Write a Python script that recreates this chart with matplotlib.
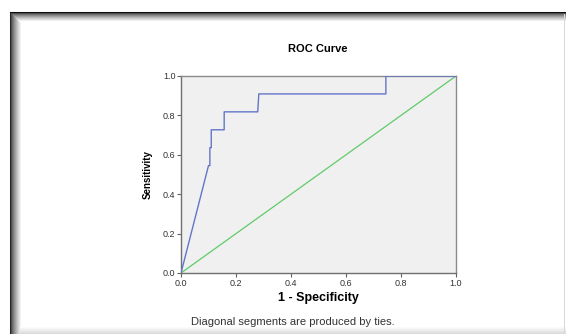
import matplotlib

matplotlib.use("Agg")
import matplotlib.pyplot as plt
from matplotlib.lines import Line2D

plt.rcParams["font.family"] = ["Liberation Sans", "DejaVu Sans"]

# ROC curve
fpr = [0.0, 0.100, 0.105, 0.105, 0.110, 0.110, 0.157, 0.157, 0.279, 0.283, 0.745, 0.745, 1.0]
tpr = [0.0, 0.545, 0.545, 0.636, 0.636, 0.727, 0.727, 0.818, 0.818, 0.909, 0.909, 1.0, 1.0]
ref = [0.0, 1.0]
ticks = [0.0, 0.2, 0.4, 0.6, 0.8, 1.0]
tick_labels = ["0.0", "0.2", "0.4", "0.6", "0.8", "1.0"]

W, H = 566, 334
fig = plt.figure(figsize=(W / 100, H / 100), dpi=100)
fig.patch.set_facecolor("white")

# window frame with soft inner shadow (left / top dark, bottom faint)
x0, y0 = 9.5, 11.5
for i in range(12):
    g = 0.15 + 0.85 * (i / 11) ** 0.7
    fig.add_artist(Line2D([(x0 + i) / W] * 2, [0, 1 - (y0 + i) / H],
                          color=str(g), lw=0.75, transform=fig.transFigure))
for i in range(10):
    g = 0.05 + 0.95 * (i / 9) ** 0.6
    fig.add_artist(Line2D([(x0 + i) / W, 1], [1 - (y0 + i) / H] * 2,
                          color=str(g), lw=0.75, transform=fig.transFigure))
for i in range(8):
    g = 0.86 + 0.14 * (i / 7)
    fig.add_artist(Line2D([(x0 + 10) / W, 1], [(1 + i) / H] * 2,
                          color=str(g), lw=0.75, transform=fig.transFigure))
fig.add_artist(Line2D([563.5 / W] * 2, [0, 1 - 14 / H], color="0.85", lw=0.75,
                      transform=fig.transFigure))

ax = fig.add_axes([181 / W, 1 - 273 / H, 275 / W, 197 / H])
ax.set_facecolor("#f0f0f0")
ax.plot(ref, ref, color="#5fcb6a", lw=0.9, zorder=2)
ax.plot(fpr, tpr, color="#6176c8", lw=1.0, zorder=3)

ax.set_xlim(0, 1)
ax.set_ylim(0, 1)
ax.set_xticks(ticks, tick_labels)
ax.set_yticks(ticks, tick_labels)
ax.tick_params(direction="out", length=3, width=0.8, color="#606060",
               labelsize=6.5, labelcolor="#333333", pad=1)
for side in ("left", "bottom"):
    ax.spines[side].set_color("#707070")
    ax.spines[side].set_linewidth(1.0)
for side in ("top", "right"):
    ax.spines[side].set_color("#8a8a8a")
    ax.spines[side].set_linewidth(1.0)

ax.set_xlabel("1 - Specificity", fontsize=9, fontweight="bold", labelpad=3)
ax.set_ylabel("Sensitivity", fontsize=7, fontweight="bold", labelpad=7)
fig.text(318 / W, 1 - 49 / H, "ROC Curve", fontsize=8, fontweight="bold",
         ha="center", va="center")
fig.text(293 / W, 1 - 322 / H, "Diagonal segments are produced by ties.",
         fontsize=8, color="#333333", ha="center", va="center")

fig.savefig("out.png", dpi=100)
